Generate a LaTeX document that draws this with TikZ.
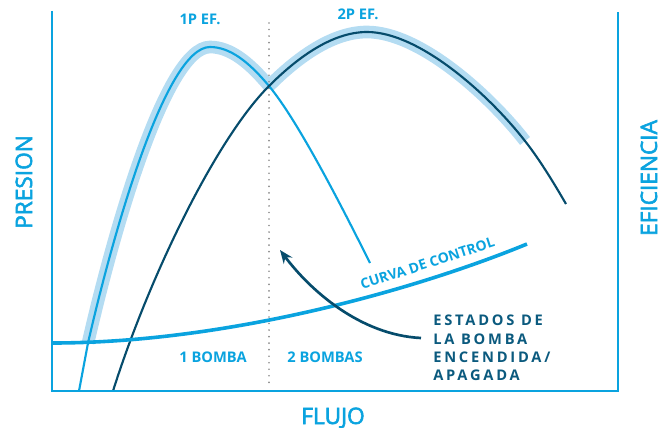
\documentclass[tikz,border=0pt]{standalone}
\usepackage{fontspec}
\setmainfont{Open Sans}
\newfontfamily\estadosfont[LetterSpace=19]{Open Sans}
\newfontface\titulofont[FakeBold=2.5]{Open Sans}
\usepackage{tikz}
\usetikzlibrary{arrows.meta}

\definecolor{azulclaro}{HTML}{0AA3DF}
\definecolor{azulhalo}{HTML}{B4DCF2}
\definecolor{azuloscuro}{HTML}{064C6C}
\definecolor{textoscuro}{HTML}{0B5A7E}
\definecolor{grispunto}{HTML}{8C8C8C}

\tikzset{
  eje/.style={draw=azulclaro,line width=1.4pt},
  halo/.style={draw=azulhalo,line width=9.5pt},
  curvauno/.style={draw=azulclaro,line width=1.6pt},
  curvados/.style={draw=azuloscuro,line width=1.6pt},
  control/.style={draw=azulclaro,line width=2.7pt},
  divisor/.style={draw=grispunto,line width=1.4pt,line cap=round,dash pattern=on 0pt off 4.9pt},
  flecha/.style={draw=azuloscuro,line width=2pt,-{Stealth[length=10pt,width=8pt]}},
  etiqueta/.style={text=azulclaro,inner sep=0pt,font=\bfseries\fontsize{11}{13}\selectfont},
  titulo/.style={text=azulclaro,inner sep=0pt,font=\titulofont\fontsize{17}{20}\selectfont}
}

\begin{document}
\begin{tikzpicture}[x=0.75pt,y=0.75pt,yscale=-1,xscale=1]
\useasboundingbox (0,0) rectangle (667,428);

%Shape: Halo 1P
\draw[halo] (88,343) .. controls (112,238) and (165,47) .. (210,47) .. controls (230,47) and (249,62) .. (269,86) ;
%Shape: Halo 2P
\draw[halo] (269,86) .. controls (294,61) and (330,32) .. (367,32) .. controls (420,32) and (490,96) .. (525,141) ;

%Shape: Division line
\coordinate (divarriba) at (269,23);
\coordinate (divabajo) at (269,384);
\draw[divisor] (divarriba) -- (divabajo) ;

%Shape: Curve 1P
\draw[curvauno] (79,391) -- (88,343) .. controls (112,238) and (165,47) .. (210,47) .. controls (230,47) and (249,62) .. (269,86) .. controls (299,122) and (345,213) .. (370,263) ;
%Shape: Curve 2P
\draw[curvados] (113,391) .. controls (148,280) and (215,140) .. (269,86) .. controls (294,61) and (330,32) .. (367,32) .. controls (420,32) and (490,96) .. (525,141) .. controls (540,160) and (555,185) .. (566,204) ;

%Shape: Control curve
\draw[control] (52,343) .. controls (230,343) and (420,288) .. (527,244) ;

%Shape: Axes
\draw[eje] (52,11) -- (52,391) -- (618,391) -- (618,12) ;

%Shape: Arrow
\coordinate (flechaini) at (421,338);
\coordinate (flechafin) at (280,250);
\draw[flecha] (flechaini) .. controls (360,335) and (310,290) .. (flechafin) ;

% Text Node
\node[etiqueta,anchor=base] (unop) at (200,25) {1P EF.};
% Text Node
\node[etiqueta,anchor=base] (dosp) at (358,20) {2P EF.};
% Text Node
\node[etiqueta,anchor=base] (unabomba) at (213,362) {1 BOMBA};
% Text Node
\node[etiqueta,anchor=base] (dosbombas) at (325,362) {2 BOMBAS};
% Text Node
\node[etiqueta,anchor=base,rotate=18,font=\bfseries\fontsize{10.5}{12}\selectfont] (curvacontrol) at (429,268) {CURVA DE CONTROL};
% Text Node
\node[titulo,anchor=base,rotate=90] (presion) at (32,182) {PRESION};
% Text Node
\node[titulo,anchor=base,rotate=90] (eficiencia) at (657,178) {EFICIENCIA};
% Text Node
\node[titulo,anchor=base] (flujo) at (333,424) {FLUJO};
% Text Node
\node[text=textoscuro,inner sep=0pt,anchor=north west,align=left,font=\estadosfont\bfseries\fontsize{11}{13.7}\selectfont] (estados) at (433,315) {ESTADOS DE\\LA BOMBA\\ENCENDIDA/\\APAGADA};

\end{tikzpicture}
\end{document}
